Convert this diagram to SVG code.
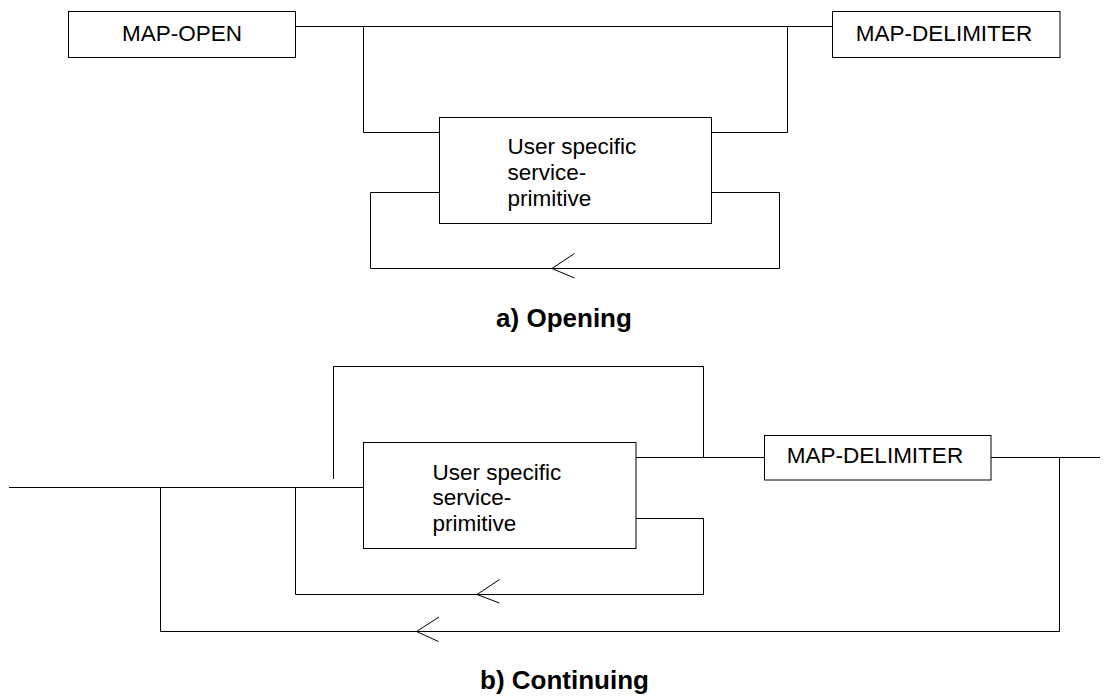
<svg xmlns="http://www.w3.org/2000/svg" width="1109" height="698" viewBox="0 0 1109 698">
  <style>
    .box { fill: #fff; stroke: #000; stroke-width: 1; }
    .ln { fill: none; stroke: #000; stroke-width: 1; }
    .lbl { font-family: "Liberation Sans", Arial, sans-serif; font-size: 22.5px; fill: #000; }
    .mid { text-anchor: middle; }
    .ttl { font-family: "Liberation Sans", Arial, sans-serif; font-size: 26px; font-weight: bold; fill: #000; text-anchor: middle; }
  </style>
  <rect width="1109" height="698" fill="#fff"/>

  <g id="connectors">
    <!-- a) Opening -->
    <polyline class="ln" points="296,26.5 832.5,26.5"/>
    <polyline class="ln" points="363.5,26.5 363.5,132.5 439.5,132.5"/>
    <polyline class="ln" points="711.5,132.5 787.5,132.5 787.5,26.5"/>
    <polyline class="ln" points="439.5,192.5 370.5,192.5 370.5,268.5 779.5,268.5 779.5,192.5 711.5,192.5"/>
    <polyline class="ln" points="574.5,253.5 552,268.5 574.5,278"/>
    <!-- b) Continuing -->
    <polyline class="ln" points="9,487.5 363.5,487.5"/>
    <polyline class="ln" points="160.5,487.5 160.5,631.5 1059.5,631.5 1059.5,457.5"/>
    <polyline class="ln" points="295.5,487.5 295.5,594.5 703.5,594.5 703.5,518.5 636,518.5"/>
    <polyline class="ln" points="333.5,479 333.5,366.5 703.5,366.5 703.5,457.5"/>
    <polyline class="ln" points="636,457.5 764.5,457.5"/>
    <polyline class="ln" points="991,457.5 1100,457.5"/>
    <polyline class="ln" points="499.5,579.5 477,594.5 499.5,603"/>
    <polyline class="ln" points="439,617 416.5,631.5 438.5,641.5"/>
  </g>

  <g id="map-open-a">
    <rect class="box" x="68.5" y="11.5" width="227" height="46"/>
    <text class="lbl mid" x="182" y="41">MAP-OPEN</text>
  </g>
  <g id="map-delimiter-a">
    <rect class="box" x="832.5" y="11.5" width="227.5" height="46"/>
    <text class="lbl mid" x="944" y="41">MAP-DELIMITER</text>
  </g>
  <g id="user-primitive-a">
    <rect class="box" x="439.5" y="117.5" width="272" height="106"/>
    <text class="lbl" x="507.5" y="153.5">User specific</text>
    <text class="lbl" x="507.5" y="179.5">service-</text>
    <text class="lbl" x="507.5" y="205.5">primitive</text>
  </g>
  <g id="title-a">
    <text class="ttl" x="564" y="327">a) Opening</text>
  </g>

  <g id="user-primitive-b">
    <rect class="box" x="363.5" y="442.5" width="272.5" height="106"/>
    <text class="lbl" x="432.5" y="479.5">User specific</text>
    <text class="lbl" x="432.5" y="505">service-</text>
    <text class="lbl" x="432.5" y="530.5">primitive</text>
  </g>
  <g id="map-delimiter-b">
    <rect class="box" x="764.5" y="435.5" width="226.5" height="44.5"/>
    <text class="lbl mid" x="875" y="463">MAP-DELIMITER</text>
  </g>
  <g id="title-b">
    <text class="ttl" x="564.5" y="688.5">b) Continuing</text>
  </g>
</svg>
